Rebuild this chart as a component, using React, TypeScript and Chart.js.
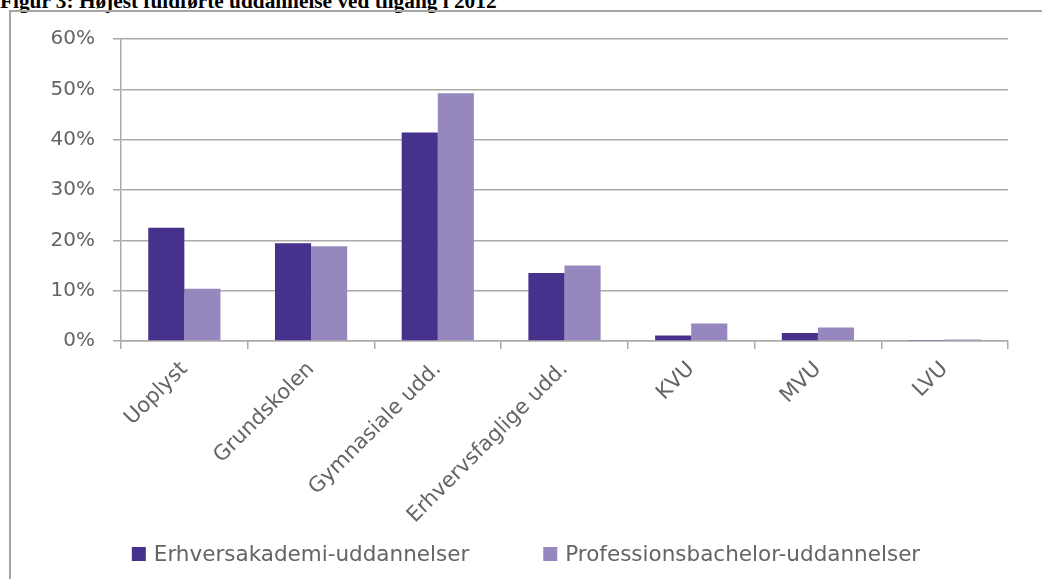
import React, { useEffect, useRef } from "react";
import { Chart, registerables } from "chart.js";

Chart.register(...registerables);

const categories = ["Uoplyst", "Grundskolen", "Gymnasiale udd.", "Erhvervsfaglige udd.", "KVU", "MVU", "LVU"];
const erhversakademi = [22.5, 19.4, 41.4, 13.5, 1.1, 1.6, 0.1];
const professionsbachelor = [10.4, 18.8, 49.2, 15.0, 3.5, 2.7, 0.3];
const seriesNames = ["Erhversakademi-uddannelser", "Professionsbachelor-uddannelser"];
const titleText = "Figur 3: Højest fuldførte uddannelse ved tilgang i 2012";

const FONT = "'DejaVu Sans'";
const TEXT = "#646464";

const bottomLegend = {
  id: "bottomLegend",
  afterDraw(chart: any, _args: any, opts: any) {
    const ctx = chart.ctx;
    const size = opts.fontSize;
    ctx.save();
    ctx.font = `${size}px ${FONT}`;
    ctx.textBaseline = "middle";
    ctx.textAlign = "left";
    const items = chart.data.datasets.map((d: any) => ({
      text: d.label,
      color: d.backgroundColor,
      w: opts.box + opts.boxGap + ctx.measureText(d.label).width,
    }));
    const total = items.reduce((a: number, it: any) => a + it.w, 0) + opts.gap * (items.length - 1);
    let x = opts.centerX - total / 2;
    const y = opts.centerY;
    for (const it of items) {
      ctx.fillStyle = it.color;
      ctx.fillRect(x, y - opts.box / 2, opts.box, opts.box);
      ctx.fillStyle = TEXT;
      ctx.fillText(it.text, x + opts.box + opts.boxGap, y + 1);
      x += it.w + opts.gap;
    }
    ctx.restore();
  },
};

export default function App() {
  const ref = useRef<HTMLCanvasElement | null>(null);

  useEffect(() => {
    document.body.style.margin = "0";
    document.body.style.overflow = "hidden";
    const ctx = ref.current!.getContext("2d")!;
    const grid = "#ABABAB";
    const chart = new Chart(ctx, {
      type: "bar",
      data: {
        labels: categories,
        datasets: [
          {
            label: seriesNames[0],
            data: erhversakademi,
            backgroundColor: "#46328C",
            borderWidth: 0,
            categoryPercentage: 0.57,
            barPercentage: 1,
          },
          {
            label: seriesNames[1],
            data: professionsbachelor,
            backgroundColor: "#9688BE",
            borderWidth: 0,
            categoryPercentage: 0.57,
            barPercentage: 1,
          },
        ],
      },
      plugins: [bottomLegend],
      options: {
        responsive: false,
        animation: false,
        layout: { padding: { top: 39, left: 40, right: 34, bottom: 0 } },
        plugins: {
          tooltip: { enabled: false },
          legend: { display: false },
          bottomLegend: { fontSize: 21.5, box: 14, boxGap: 8, gap: 74, centerX: 526, centerY: 554 },
        } as any,
        scales: {
          x: {
            grid: {
              offset: true,
              drawOnChartArea: false,
              drawTicks: true,
              tickLength: 8,
              color: grid,
              lineWidth: 1.5,
            },
            border: { color: grid, width: 1.5 },
            ticks: {
              minRotation: 45,
              maxRotation: 45,
              autoSkip: false,
              padding: 8,
              color: TEXT,
              font: { family: FONT, size: 21 },
            },
            afterFit: (s: any) => {
              s.height = 238;
            },
          },
          y: {
            min: 0,
            max: 60,
            ticks: {
              stepSize: 10,
              padding: 18,
              color: TEXT,
              font: { family: FONT, size: 20 },
              callback: (v: any) => v + "%",
            },
            grid: { color: grid, lineWidth: 1.5, tickLength: 8 },
            border: { color: grid, width: 1.5 },
            afterFit: (s: any) => {
              s.width = 81;
            },
          },
        },
      },
    });
    return () => chart.destroy();
  }, []);

  return (
    <div style={{ position: "fixed", left: 0, top: 0, width: 1042, height: 579, overflow: "hidden", background: "#fff" }}>
      <div
        style={{
          position: "absolute",
          left: 0,
          top: -10,
          fontFamily: "'Liberation Serif', serif",
          fontWeight: "bold",
          fontSize: 21.3,
          lineHeight: "22px",
          whiteSpace: "nowrap",
          color: "#000",
        }}
      >
        {titleText}
      </div>
      <div
        style={{
          position: "absolute",
          left: 9,
          top: 10,
          width: 1100,
          height: 700,
          border: "2px solid #A6A6A6",
          boxSizing: "border-box",
        }}
      />
      <canvas ref={ref} width={1042} height={579} style={{ position: "absolute", left: 0, top: 0 }} />
    </div>
  );
}
